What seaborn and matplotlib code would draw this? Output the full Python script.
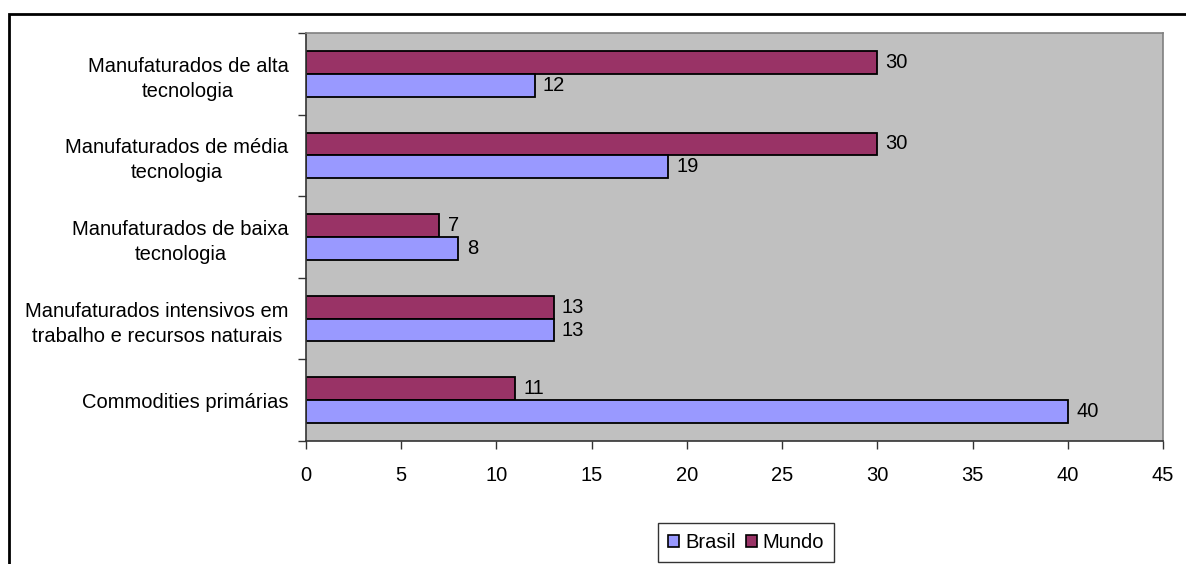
import matplotlib
matplotlib.use("Agg")
import matplotlib.pyplot as plt
import matplotlib.patches as mpatches
import seaborn as sns
import pandas as pd

categories = [
    "Manufaturados de alta\ntecnologia",
    "Manufaturados de média\ntecnologia",
    "Manufaturados de baixa\ntecnologia",
    "Manufaturados intensivos em\ntrabalho e recursos naturais",
    "Commodities primárias",
]
brasil = [12, 19, 8, 13, 40]
mundo = [30, 30, 7, 13, 11]
series_names = ["Brasil", "Mundo"]
x_ticks = [0, 5, 10, 15, 20, 25, 30, 35, 40, 45]

colors = {"Brasil": "#9999FF", "Mundo": "#993366"}

df = pd.DataFrame({
    "categoria": categories * 2,
    "valor": mundo + brasil,
    "serie": ["Mundo"] * len(categories) + ["Brasil"] * len(categories),
})

sns.set_theme(style="white")
plt.rcParams["font.family"] = ["Liberation Sans", "DejaVu Sans"]
plt.rcParams["text.color"] = "black"
plt.rcParams["xtick.labelcolor"] = "black"
plt.rcParams["ytick.labelcolor"] = "black"
FS = 14.5

W, H = 1186, 564
fig = plt.figure(figsize=(W / 100, H / 100), dpi=100)
ax = fig.add_axes([306 / W, 1 - 441 / H, (1163 - 306) / W, (441 - 33) / H])

sns.barplot(data=df, y="categoria", x="valor", hue="serie",
            hue_order=["Mundo", "Brasil"], order=categories,
            palette=colors, orient="h", width=0.56, ax=ax,
            edgecolor="black", linewidth=1.3, legend=False, saturation=1)

for cont in ax.containers:
    ax.bar_label(cont, padding=6, fontsize=FS, color="black")

ax.set_facecolor("#C0C0C0")
ax.set_xlim(0, 45)
ax.set_ylim(len(categories) - 0.5, -0.5)
ax.set_xticks(x_ticks)
ax.set_xticklabels([str(t) for t in x_ticks], fontsize=FS)
ax.set_yticks(range(len(categories)))
ax.set_yticklabels(categories, fontsize=FS, multialignment="center", linespacing=1.4)
ax.set_yticks([i - 0.5 for i in range(len(categories) + 1)], minor=True)
ax.tick_params(axis="y", which="major", length=0, pad=12.5, labelcolor="black")
ax.tick_params(axis="y", which="minor", length=5.5, width=1, color="#333333", direction="out", left=True)
ax.tick_params(axis="x", which="major", length=6, width=1, color="#333333", direction="out", pad=12,
               bottom=True, labelcolor="black")
ax.set_xlabel("")
ax.set_ylabel("")

for side in ["top", "right"]:
    ax.spines[side].set_color("#808080")
    ax.spines[side].set_linewidth(1.2)
for side in ["left", "bottom"]:
    ax.spines[side].set_color("#333333")
    ax.spines[side].set_linewidth(1.2)

handles = [mpatches.Patch(facecolor=colors[s], edgecolor="black", linewidth=1.2, label=s)
           for s in series_names]
leg = fig.legend(handles=handles, loc="center", bbox_to_anchor=(746 / W, 1 - 542.5 / H),
                 ncol=2, fontsize=FS, frameon=True, fancybox=False,
                 handlelength=0.55, handleheight=0.55, handletextpad=0.3,
                 columnspacing=0.5, borderpad=0.5, borderaxespad=0, labelcolor="black")
leg.get_frame().set_edgecolor("black")
leg.get_frame().set_linewidth(1.0)

border = mpatches.Rectangle((9 / W, -0.2), 1.5, 1 - 14 / H + 0.2, transform=fig.transFigure,
                            fill=False, edgecolor="black", linewidth=2, clip_on=False)
fig.patches.append(border)

fig.savefig("out.png", dpi=100, facecolor="white")
